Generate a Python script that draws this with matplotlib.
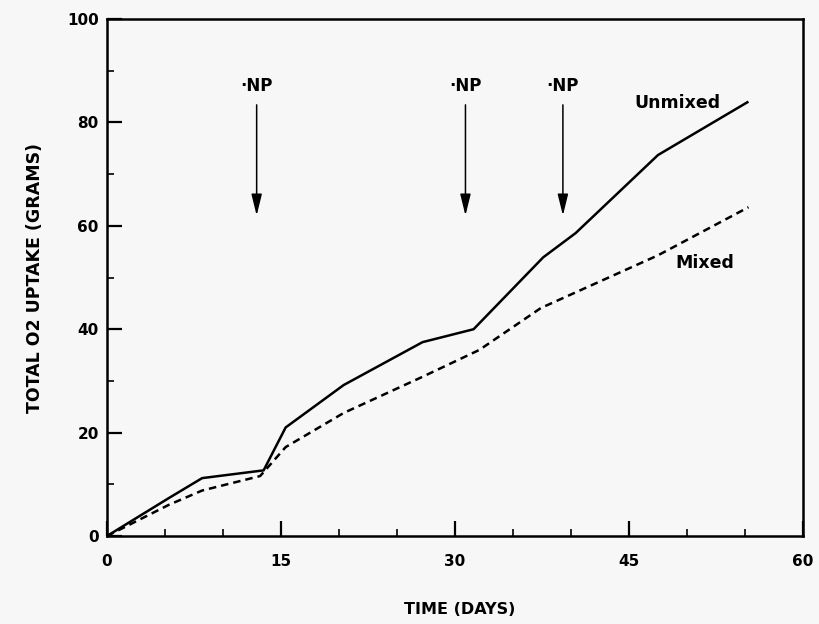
import matplotlib.pyplot as plt
from matplotlib.ticker import MultipleLocator

# Data
days_unmixed = [0, 5.3, 8.2, 13.5, 15.4, 20.4, 27.2, 31.6, 37.6, 40.4, 47.5, 55.2]
o2_unmixed = [0, 7.3, 11.2, 12.7, 21.0, 29.2, 37.5, 40.0, 53.9, 58.6, 73.7, 83.9]

days_mixed = [0, 5.3, 8.2, 13.2, 15.4, 20.4, 27.2, 32.1, 37.4, 47.5, 55.3]
o2_mixed = [0, 6.0, 8.8, 11.6, 17.2, 23.8, 30.8, 36.0, 44.1, 54.3, 63.6]

np_days = [12.9, 30.9, 39.3]
np_labels = ['·NP', '·NP', '·NP']

xticks = [0, 15, 30, 45, 60]
yticks = [0, 20, 40, 60, 80, 100]

plt.rcParams['font.family'] = ['DejaVu Sans']
plt.rcParams['font.weight'] = 'bold'

fig = plt.figure(figsize=(8.2, 6.24), dpi=100)
fig.patch.set_facecolor('#f7f7f7')
ax = fig.add_axes([0.1305, 0.141, 0.8488, 0.8285])
ax.set_facecolor('#f7f7f7')

ax.plot(days_unmixed, o2_unmixed, color='black', lw=1.8)
ax.plot(days_mixed, o2_mixed, color='black', lw=1.8, dashes=(3, 2))

# nutrient addition arrows
for d, lab in zip(np_days, np_labels):
    ax.annotate('', xy=(d, 62), xytext=(d, 83.4),
                arrowprops=dict(arrowstyle='-|>,head_length=1.3,head_width=0.32',
                                color='black', lw=1.1, shrinkA=0, shrinkB=0))
    ax.text(d, 87, lab, ha='center', va='center', fontsize=12, fontweight='bold')

ax.text(49.2, 83.8, 'Unmixed', ha='center', va='center', fontsize=12.5, fontweight='bold')
ax.text(51.5, 52.8, 'Mixed', ha='center', va='center', fontsize=12.5, fontweight='bold')

ax.set_xlim(0, 60)
ax.set_ylim(0, 100)
ax.set_xticks(xticks)
ax.set_yticks(yticks)
ax.xaxis.set_minor_locator(MultipleLocator(5))
ax.yaxis.set_minor_locator(MultipleLocator(10))
ax.tick_params(which='major', direction='in', length=11, width=1.6, labelsize=11)
ax.tick_params(which='minor', direction='in', length=5, width=1.2)
ax.tick_params(axis='x', which='major', pad=13, top=False)
ax.tick_params(axis='y', which='major', pad=6, right=False)
ax.tick_params(which='minor', top=False, right=False)
for lbl in ax.get_xticklabels() + ax.get_yticklabels():
    lbl.set_fontweight('bold')
for s in ax.spines.values():
    s.set_linewidth(1.8)

ax.set_xlabel('TIME (DAYS)', fontsize=11.5, fontweight='bold', va='center')
ax.xaxis.set_label_coords(0.507, -0.143)
ax.set_ylabel('TOTAL O2 UPTAKE (GRAMS)', fontsize=12.5, fontweight='bold', va='center')
ax.yaxis.set_label_coords(-0.103, 0.5)

fig.savefig('out.png', dpi=100, facecolor=fig.get_facecolor())
